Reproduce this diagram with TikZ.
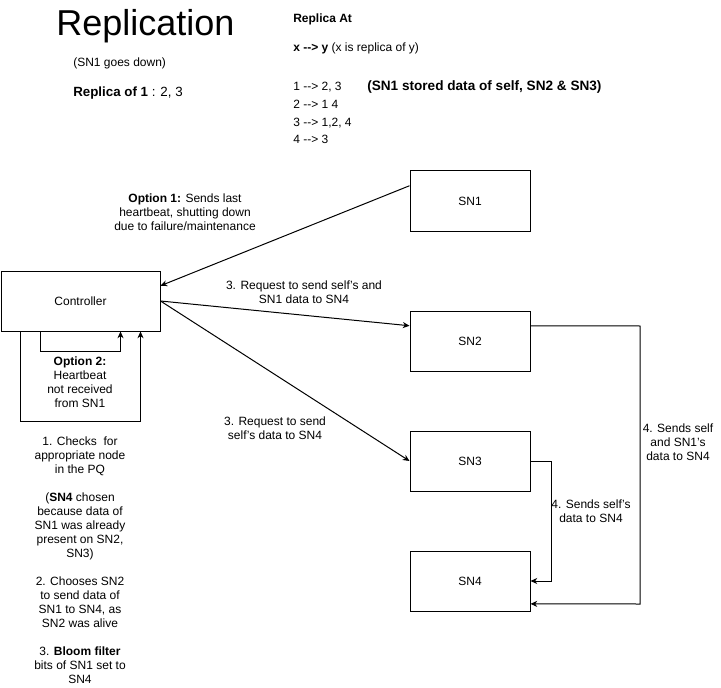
\documentclass[tikz,border=0pt]{standalone}
\usepackage{fontspec}
\setmainfont{Liberation Sans}
\usetikzlibrary{arrows.meta,calc}
\newcommand\myarr{-\kern0pt-\kern0pt>}
\begin{document}
\begin{tikzpicture}[x=0.75pt,y=-0.75pt,
  box/.style={draw, line width=0.75pt, minimum width=90pt, minimum height=45pt, inner sep=0pt, font=\fontsize{9}{10.5}\selectfont},
  lbl/.style={align=center, inner sep=0pt, font=\fontsize{9}{10.5}\selectfont},
  txt/.style={anchor=base west, inner sep=0pt, font=\fontsize{9}{10.5}\selectfont},
  conn/.style={draw, line width=0.75pt, -{Stealth[length=5pt,width=4.5pt,inset=1.5pt]}}]
\useasboundingbox (0,0) rectangle (721,688);

% titles and texts
\node[txt, font=\fontsize{27}{32}\selectfont] (title) at (56,35.5) {Replication};
\node[txt] (sub) at (73,67) {(SN1 goes down)};
\node[txt, font=\fontsize{10}{12}\selectfont] (rep1) at (73,97) {\textbf{Replica of 1} : 2, 3};

\node[txt] (ra) at (293,22.5) {\textbf{Replica At}};
\node[txt] (xy) at (293,52) {\textbf{x \myarr\ y} (x is replica of y)};
\node[txt] (l1) at (293,91) {1 \myarr\ 2, 3};
\node[txt, font=\fontsize{10.2}{12}\selectfont] (l1b) at (367,91) {\textbf{(SN1 stored data of self, SN2 \& SN3)}};
\node[txt] (l2) at (293,109) {2 \myarr\ 1 4};
\node[txt] (l3) at (293,126.5) {3 \myarr\ 1,2, 4};
\node[txt] (l4) at (293,144) {4 \myarr\ 3};

% boxes
\node[box, minimum width=119.25pt] (ctl) at (80.5,301) {Controller};
\node[box] (sn1) at (470,201) {SN1};
\node[box] (sn2) at (470,341) {SN2};
\node[box] (sn3) at (470,461) {SN3};
\node[box] (sn4) at (470,581) {SN4};

% anchor points
\coordinate (sn1w) at ($(sn1.north west)!0.25!(sn1.south west)$);
\coordinate (ctle) at ($(ctl.north east)!0.25!(ctl.south east)$);
\coordinate (sn2w) at ($(sn2.north west)!0.25!(sn2.south west)$);
\coordinate (sn2e) at ($(sn2.north east)!0.25!(sn2.south east)$);
\coordinate (sn4e) at ($(sn4.north east)!0.875!(sn4.south east)$);
\coordinate (b1) at ($(ctl.south west)!0.125!(ctl.south east)$);
\coordinate (b2) at ($(ctl.south west)!0.25!(ctl.south east)$);
\coordinate (b3) at ($(ctl.south west)!0.75!(ctl.south east)$);
\coordinate (b4) at ($(ctl.south west)!0.875!(ctl.south east)$);
\coordinate (r1) at (640,326);
\coordinate (r2) at (640,604);
\coordinate (m1) at (551,461);
\coordinate (m2) at (551,581);

% connectors
\draw[conn] (sn1w) -- (ctle);
\draw[conn] (ctl.east) -- (sn2w);
\draw[conn] (ctl.east) -- (sn3.west);
\draw[conn] (sn2e) -- (r1) -- (r2) -- (sn4e);
\draw[conn] (sn3.east) -- (m1) -- (m2) -- (sn4.east);
\draw[conn] (b2) -- ++(0,20) -| (b3);
\draw[conn] (b1) -- ++(0,90) -| (b4);

% labels
\node[lbl] (o1) at (185,212) {\textbf{Option 1:} Sends last\\heartbeat, shutting down\\due to failure/maintenance};
\node[lbl] (q1) at (304,292) {3. Request to send self's and\\SN1 data to SN4};
\node[lbl] (q2) at (275,428) {3. Request to send\\self's data to SN4};
\node[lbl] (o2) at (80,382) {\textbf{Option 2:}\\Heartbeat\\not received\\from SN1};
\node[lbl] (s4a) at (678,442) {4. Sends self\\and SN1's\\data to SN4};
\node[lbl] (s4b) at (591,511) {4. Sends self's\\data to SN4};
\node[lbl] (notes) at (80,560.5) {1. Checks\ \ for\\appropriate node\\in the PQ\\[10.5pt](\textbf{SN4} chosen\\because data of\\SN1 was already\\present on SN2,\\SN3)\\[10.5pt]2. Chooses SN2\\to send data of\\SN1 to SN4, as\\SN2 was alive\\[10.5pt]3. \textbf{Bloom filter}\\bits of SN1 set to\\SN4};
\end{tikzpicture}
\end{document}
